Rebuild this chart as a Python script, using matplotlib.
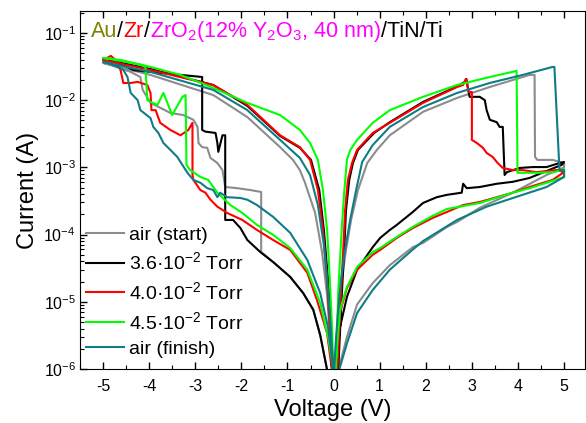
import numpy as np
import matplotlib
matplotlib.use("Agg")
import matplotlib.pyplot as plt
from matplotlib.ticker import LogLocator, MultipleLocator, NullFormatter

plt.rcParams["font.family"] = ["Liberation Sans", "DejaVu Sans"]
plt.rcParams["mathtext.default"] = "regular"
plt.rcParams["axes.unicode_minus"] = False

labels = ["air (start)", "3.6·10$^{-2}$ Torr", "4.0·10$^{-2}$ Torr",
          "4.5·10$^{-2}$ Torr", "air (finish)"]
colors = ["#8c8c8c", "#000000", "#ff0000", "#00ff00", "#0e7d86"]

# each loop: 0 -> +5 (LRS, reset, HRS back to 0) -> -5 (HRS, set) -> back to 0 (LRS)
v_air_start = [0.0, 0.03, 0.08, 0.12, 0.18, 0.27, 0.38, 0.53, 0.73, 0.94, 1.22, 1.94, 2.68, 3.39, 4.25, 4.36,
               4.37, 4.42, 4.75, 5.0,
               5.0, 4.62, 3.89, 3.17, 2.68, 2.46, 1.94, 1.72, 1.22, 0.85, 0.51, 0.29, 0.14, 0.08, 0.0,
               -0.05, -0.14, -0.29, -0.44, -0.66, -0.94, -1.31, -1.57,
               -1.57, -1.81, -2.09, -2.35, -2.41, -2.52, -2.67, -2.74, -2.85, -2.93, -2.95, -3.04, -3.26,
               -3.54, -3.76, -3.97, -4.14, -4.19, -4.40, -4.83, -5.0,
               -3.97, -2.61, -1.87, -1.16, -0.88, -0.73, -0.62, -0.40, -0.25, -0.14, -0.08, -0.03, 0.0]
i_air_start = [2e-7, 9e-7, 2.7e-6, 7.6e-6, 2.1e-5, 5.9e-5, 1.65e-4, 4.6e-4, 1.16e-3, 1.82e-3, 3.0e-3, 6.7e-3,
               1.08e-2, 1.57e-2, 2.37e-2, 2.37e-2,
               1.43e-3, 1.29e-3, 1.29e-3, 1.16e-3,
               1.0e-3, 7.7e-4, 4.2e-4, 2.5e-4, 1.54e-4, 1.3e-4, 7.5e-5, 6.5e-5, 3.5e-5, 1.9e-5, 9.1e-6,
               3.0e-6, 1.2e-6, 8e-7, 2e-7,
               8e-7, 9.7e-7, 3.2e-6, 7.6e-6, 1.35e-5, 2.34e-5, 3.9e-5, 5.5e-5,
               4.3e-4, 4.6e-4, 4.9e-4, 5.1e-4, 9.1e-4, 1.16e-3, 1.38e-3, 1.95e-3, 2.0e-3, 2.3e-3, 4.0e-3,
               5.1e-3, 6.0e-3, 6.45e-3, 7.7e-3, 9.1e-3, 1.42e-2, 2.21e-2, 2.63e-2, 3.34e-2, 3.58e-2,
               2.37e-2, 1.19e-2, 5.6e-3, 2.0e-3, 1.29e-3, 9.1e-4, 5.9e-4, 2.1e-4, 5.5e-5, 1.26e-5, 3.2e-6,
               9e-7, 2e-7]

v_36 = [0.0, 0.10, 0.14, 0.18, 0.23, 0.27, 0.34, 0.42, 0.53, 0.88, 1.22, 1.94, 2.68, 2.85, 2.88, 2.95, 3.17,
        3.28, 3.32, 3.39, 3.54, 3.60, 3.67, 3.71, 3.76, 4.04, 4.32, 4.62, 4.90, 5.0,
        4.95, 4.25, 3.89, 3.54, 3.17, 2.89, 2.81, 2.78, 2.46, 2.24, 1.94, 1.72, 1.37, 1.22, 1.01, 0.85,
        0.51, 0.29, 0.14, 0.08, 0.01, 0.0,
        -0.03, -0.14, -0.29, -0.44, -0.66, -0.94, -1.31, -1.59, -1.87, -2.02, -2.18, -2.35,
        -2.35, -2.41, -2.50, -2.52, -2.56, -2.78, -2.85, -2.85, -3.76, -4.34, -4.56, -5.0,
        -3.97, -2.61, -1.87, -1.16, -0.73, -0.49, -0.31, -0.21, -0.12, -0.05, -0.01, 0.0]
i_36 = [2e-7, 9e-7, 3.6e-6, 1.35e-5, 5.9e-5, 2.3e-4, 6.5e-4, 1.16e-3, 1.82e-3, 3.25e-3, 4.7e-3, 9.4e-3,
        1.6e-2, 1.87e-2, 2.07e-2, 1.12e-2, 1.12e-2, 1.0e-2, 7.1e-3, 5.1e-3, 4.7e-3, 4.0e-3, 4.0e-3,
        7.7e-4, 8.5e-4, 9.8e-4, 1.01e-3, 1.01e-3, 1.16e-3, 1.2e-3,
        1.09e-3, 6.95e-4, 6.1e-4, 5.7e-4, 5.1e-4, 4.9e-4, 5.7e-4, 4.2e-4, 3.9e-4, 3.6e-4, 2.95e-4,
        2.17e-4, 1.39e-4, 1.17e-4, 8.9e-5, 6.5e-5, 3.0e-5, 1.18e-5, 4.2e-6, 1.9e-6, 9e-7, 2e-7,
        5e-7, 9.7e-7, 3.2e-6, 7.6e-6, 1.35e-5, 2.34e-5, 3.9e-5, 5.5e-5, 8.3e-5, 1.25e-4, 1.65e-4, 1.65e-4,
        3.0e-3, 3.0e-3, 1.7e-3, 2.3e-3, 3.25e-3, 3.4e-3, 3.6e-3, 2.21e-2, 2.54e-2, 2.8e-2, 3.34e-2, 4.1e-2,
        2.91e-2, 1.68e-2, 8.2e-3, 2.93e-3, 1.95e-3, 1.29e-3, 4.6e-4, 1.17e-4, 2.1e-5, 3.8e-6, 9e-7, 2e-7]

v_40 = [0.0, 0.08, 0.12, 0.16, 0.21, 0.25, 0.31, 0.40, 0.51, 0.85, 1.22, 1.94, 2.68, 2.81, 2.87, 2.93, 3.0,
        3.0, 3.11, 3.24, 3.32, 3.45, 3.56, 3.67, 3.89, 4.10, 4.40, 4.84, 5.0,
        4.75, 4.25, 3.89, 3.17, 2.81, 2.46, 2.15, 1.72, 1.37, 1.01, 0.85, 0.51, 0.29, 0.14, 0.08, 0.03, 0.0,
        -0.03, -0.14, -0.36, -0.57, -0.94, -1.31, -1.66, -1.98, -2.31, -2.52, -2.67, -2.78, -2.89, -3.04,
        -3.06, -3.06, -3.15, -3.32, -3.54, -3.76, -3.86, -3.95, -3.97, -4.04, -4.25, -4.40, -4.56, -4.62,
        -4.73, -4.83, -5.0,
        -3.97, -2.61, -1.87, -1.16, -0.73, -0.51, -0.34, -0.23, -0.14, -0.08, -0.03, 0.0]
i_40 = [2e-7, 9e-7, 3.6e-6, 1.35e-5, 5.9e-5, 2.3e-4, 6.5e-4, 1.16e-3, 1.82e-3, 3.25e-3, 4.6e-3, 9.1e-3,
        1.57e-2, 1.68e-2, 2.07e-2, 1.32e-2, 1.32e-2,
        2.56e-3, 2.3e-3, 1.95e-3, 1.64e-3, 1.43e-3, 1.16e-3, 9.8e-4, 9.1e-4, 9.1e-4, 8.5e-4, 9.1e-4, 8.5e-4,
        6.5e-4, 5.1e-4, 4.2e-4, 3.05e-4, 2.75e-4, 2.17e-4, 1.77e-4, 1.25e-4, 8.9e-5, 5.9e-5, 5.0e-5,
        3.0e-5, 1.6e-5, 7.0e-6, 2.4e-6, 9e-7, 2e-7,
        9e-7, 3.4e-6, 1.06e-5, 2.7e-5, 5.9e-5, 8.3e-5, 1.17e-4, 1.65e-4, 2.1e-4, 2.6e-4, 3.3e-4, 4.2e-4,
        4.6e-4, 6.5e-4, 7.7e-4, 4.6e-3, 3.6e-3, 3.0e-3, 3.6e-3, 4.6e-3, 7.1e-3, 7.1e-3, 1.28e-2, 1.68e-2,
        1.87e-2, 1.8e-2, 1.8e-2, 2.8e-2, 3.96e-2, 4.55e-2, 3.96e-2,
        2.81e-2, 1.68e-2, 8.5e-3, 3.0e-3, 2.0e-3, 1.29e-3, 4.6e-4, 1.17e-4, 2.1e-5, 3.8e-6, 9e-7, 2e-7]

v_45 = [0.0, 0.05, 0.08, 0.10, 0.14, 0.18, 0.23, 0.29, 0.36, 0.51, 0.85, 1.22, 1.94, 2.68, 3.39, 3.97,
        3.99, 4.47, 4.79, 5.0,
        5.0, 4.62, 4.25, 3.89, 3.17, 2.46, 2.15, 1.72, 1.37, 1.01, 0.85, 0.51, 0.29, 0.14, 0.08, 0.03, 0.0,
        -0.01, -0.12, -0.29, -0.57, -0.94, -1.31, -1.66, -1.98, -2.24, -2.52, -2.72, -2.89, -3.11, -3.19,
        -3.21, -3.28, -3.50, -3.69, -3.82, -3.97, -4.04, -4.08, -4.19, -4.40, -4.73, -5.0,
        -4.62, -3.97, -3.32, -2.61, -1.87, -1.16, -0.73, -0.51, -0.34, -0.23, -0.14, -0.08, -0.03, -0.01, 0.0]
i_45 = [2e-7, 9e-7, 4.3e-6, 1.35e-5, 4.2e-5, 1.3e-4, 4.2e-4, 1.29e-3, 1.8e-3, 2.56e-3, 4.6e-3, 7.1e-3,
        1.12e-2, 1.68e-2, 2.21e-2, 2.72e-2,
        8.3e-4, 8.3e-4, 8.5e-4, 9.4e-4,
        7.2e-4, 5.9e-4, 4.9e-4, 4.2e-4, 2.95e-4, 2.4e-4, 1.9e-4, 1.3e-4, 9.2e-5, 6.3e-5, 5.5e-5, 3.3e-5,
        1.66e-5, 7.6e-6, 2.4e-6, 9e-7, 2e-7,
        1.07e-6, 3.0e-6, 9.6e-6, 3.0e-5, 6.3e-5, 9.9e-5, 1.39e-4, 2.1e-4, 2.75e-4, 4.2e-4, 6.5e-4, 7.2e-4,
        9.1e-4, 1.09e-3, 1.19e-2, 1.12e-2, 6.0e-3, 1.28e-2, 8.5e-3, 9.4e-3, 1.0e-2, 3.12e-2, 3.34e-2,
        3.58e-2, 3.96e-2, 4.25e-2,
        3.96e-2, 3.12e-2, 2.37e-2, 1.52e-2, 9.1e-3, 6.0e-3, 3.6e-3, 2.3e-3, 1.29e-3, 4.6e-4, 1.17e-4,
        2.1e-5, 3.8e-6, 9e-7, 2e-7]

v_air_finish = [0.0, 0.01, 0.05, 0.10, 0.16, 0.25, 0.36, 0.49, 0.62, 0.85, 1.22, 1.94, 2.68, 3.39, 4.10,
                4.75, 4.79, 4.90, 5.0,
                5.0, 4.62, 3.89, 3.32, 2.68, 1.94, 1.72, 1.22, 0.85, 0.51, 0.29, 0.14, 0.08, 0.0,
                -0.03, -0.12, -0.29, -0.57, -0.94, -1.31, -1.66, -1.87, -2.02, -2.31, -2.46, -2.52, -2.61,
                -2.74, -2.89, -3.04, -3.17, -3.28, -3.39, -3.54, -3.69, -3.80, -3.91, -3.97, -4.19, -4.25,
                -4.40, -4.47, -4.56, -4.69, -4.90, -5.0,
                -3.97, -2.61, -1.87, -1.16, -0.73, -0.51, -0.34, -0.21, -0.12, -0.05, -0.01, 0.0]
i_air_finish = [2e-7, 9e-7, 2.7e-6, 7.6e-6, 2.1e-5, 5.9e-5, 1.65e-4, 4.6e-4, 1.2e-3, 2.15e-3, 4.0e-3,
                7.9e-3, 1.28e-2, 1.8e-2, 2.37e-2, 3.12e-2, 3.12e-2, 9.1e-4, 9.1e-4,
                7.2e-4, 5.1e-4, 3.5e-4, 2.6e-4, 1.65e-4, 8.0e-5, 6.0e-5, 3.0e-5, 1.5e-5, 6.8e-6, 2.4e-6,
                1.07e-6, 6e-7, 2e-7,
                1.36e-6, 4.2e-6, 1.35e-5, 4.2e-5, 1.06e-4, 1.83e-4, 2.75e-4, 3.3e-4, 3.5e-4, 3.6e-4, 4.2e-4,
                3.6e-4, 4.6e-4, 4.9e-4, 5.9e-4, 6.5e-4, 8.3e-4, 1.09e-3, 1.43e-3, 1.82e-3, 2.3e-3, 3.25e-3,
                4.0e-3, 5.4e-3, 7.1e-3, 1.0e-2, 1.28e-2, 2.21e-2, 2.81e-2, 3.12e-2, 3.58e-2, 3.7e-2,
                2.63e-2, 1.42e-2, 7.1e-3, 2.56e-3, 1.38e-3, 7.7e-4, 2.75e-4, 7.0e-5, 1.5e-5, 3.2e-6, 9e-7, 2e-7]

volts = [v_air_start, v_36, v_40, v_45, v_air_finish]
currents = [i_air_start, i_36, i_40, i_45, i_air_finish]

fig = plt.figure(figsize=(5.86, 4.23), dpi=100)
ax = fig.add_axes([0.1365, 0.1277, 0.8615, 0.8463])

for v, i, c, lab in zip(volts, currents, colors, labels):
    ax.plot(v, i, color=c, lw=1.5, label=lab)

ax.set_yscale("log")
ax.set_xlim(-5.5, 5.45)
ax.set_ylim(1e-6, 0.212)
ax.xaxis.set_major_locator(MultipleLocator(1))
ax.xaxis.set_minor_locator(MultipleLocator(0.5))
ax.yaxis.set_major_locator(LogLocator(base=10, numticks=12))
ax.yaxis.set_minor_locator(LogLocator(base=10, subs=np.arange(2, 10), numticks=12))
ax.yaxis.set_minor_formatter(NullFormatter())
ax.tick_params(which="both", direction="in", top=True, right=False, labelsize=11.5)
ax.tick_params(which="major", length=5, width=1)
ax.tick_params(which="minor", length=3, width=0.8)
ax.tick_params(axis="x", pad=7)
ax.tick_params(axis="y", pad=3)

ax.set_xlabel("Voltage (V)", fontsize=17, labelpad=4)
ax.set_ylabel("Current (A)", fontsize=17, labelpad=3)

ax.legend(loc="lower left", bbox_to_anchor=(0.012, 0.03), frameon=False, fontsize=14,
          handlelength=1.95, handletextpad=0.28, labelspacing=0.4, borderpad=0, borderaxespad=0)

# multicoloured sample stack in the top-left corner
pieces = [("Au", "#808000"), ("/", "black"), ("Zr", "#ff0000"), ("/", "black"),
          ("ZrO$_2$(12% Y$_2$O$_3$, 40 nm)", "#ff00ff"), ("/TiN/Ti", "black")]
renderer = fig.canvas.get_renderer()
x = 0.022
for s, c in pieces:
    t = ax.text(x, 0.927, s, color=c, fontsize=15.5, transform=ax.transAxes, ha="left", va="baseline")
    bb = t.get_window_extent(renderer=renderer)
    x = ax.transAxes.inverted().transform((bb.x1, bb.y0))[0]

fig.savefig("out.png", dpi=100)
